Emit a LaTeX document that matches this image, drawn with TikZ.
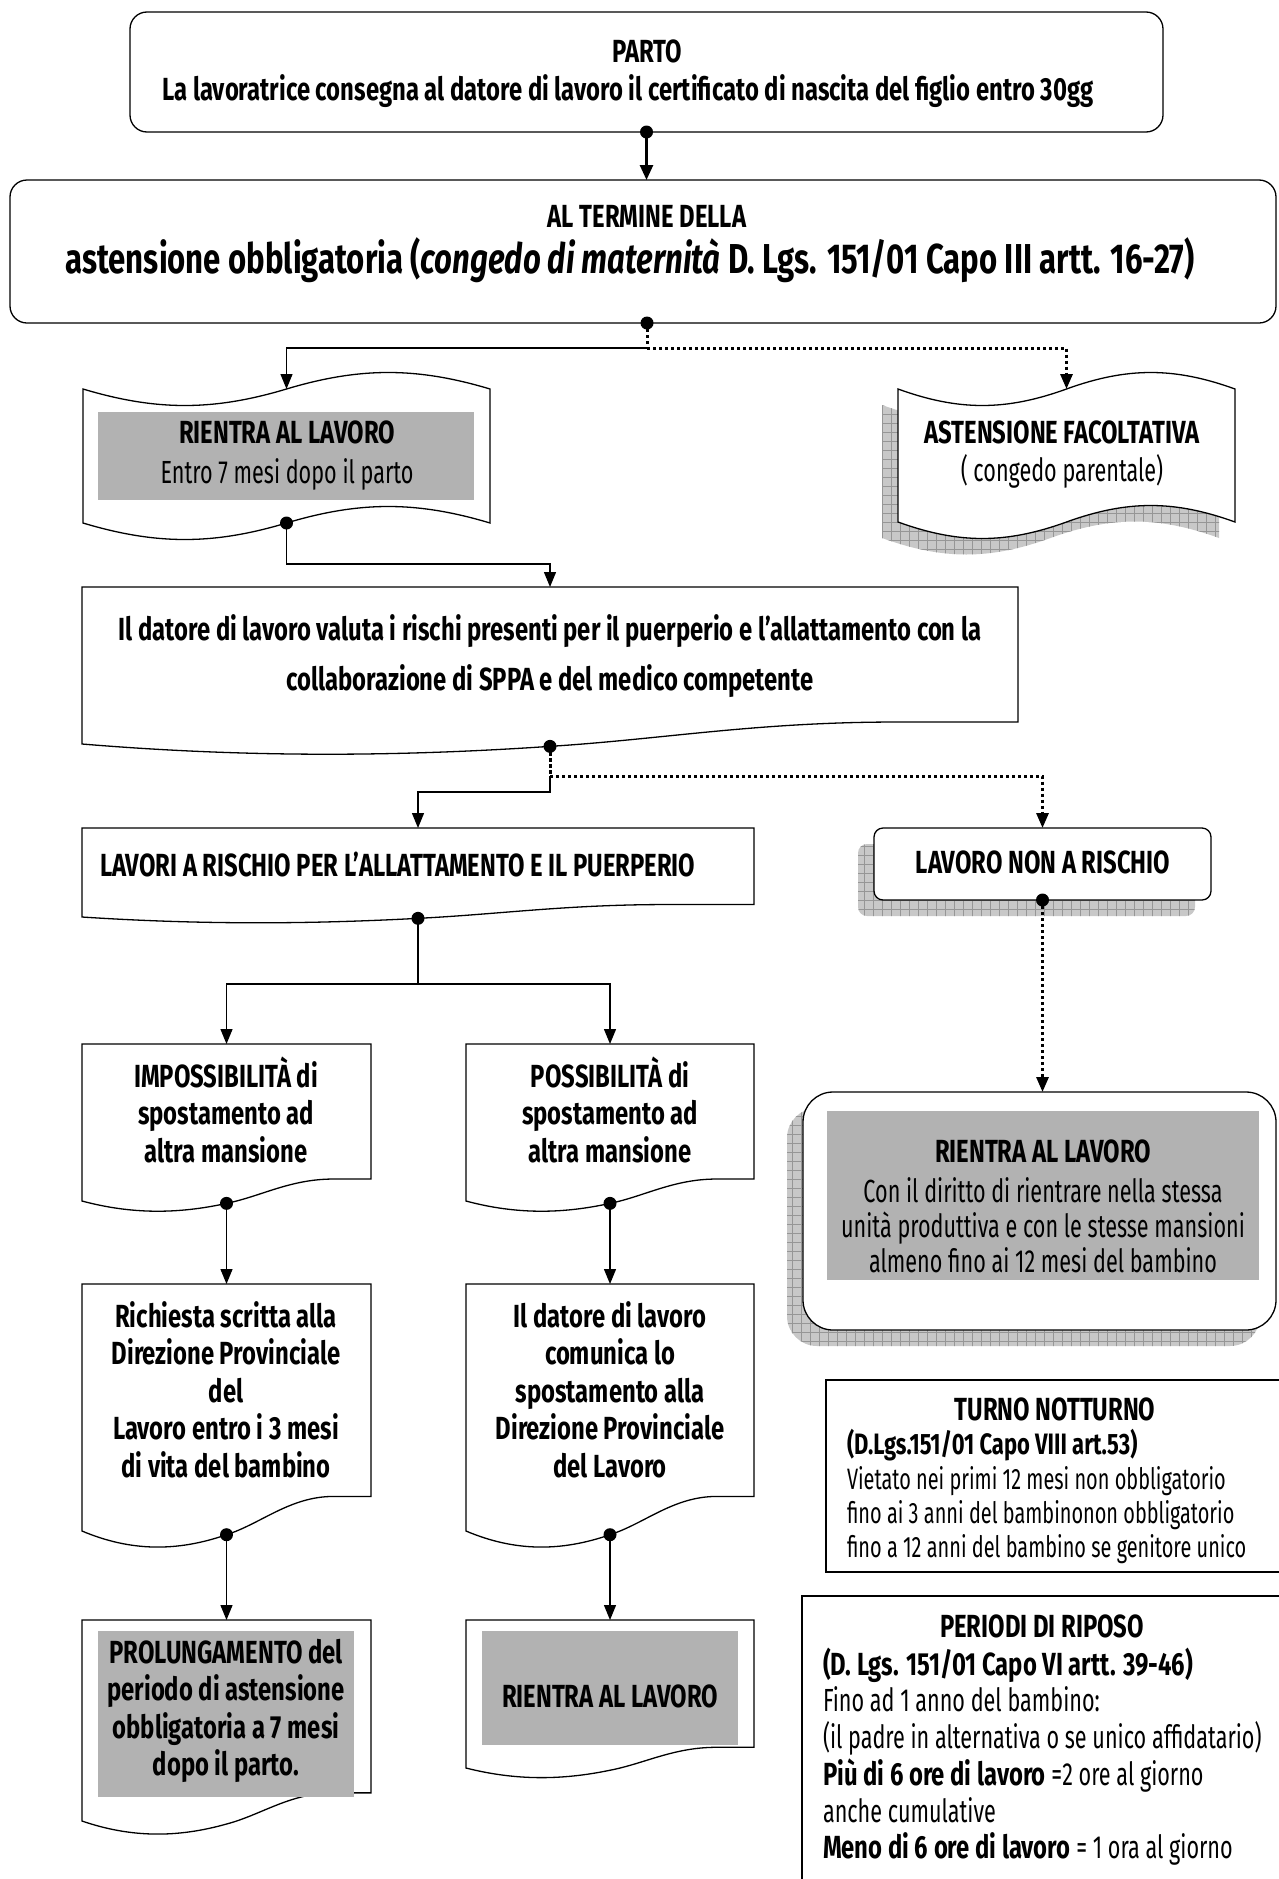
\documentclass[tikz,border=0pt]{standalone}
\usepackage{fontspec}
\setmainfont{Fira Sans}[
  UprightFeatures={FakeStretch=0.675},
  ItalicFeatures={FakeStretch=0.675},
  BoldFeatures={FakeStretch=0.745},
  BoldItalicFeatures={FakeStretch=0.745}]
\usetikzlibrary{arrows.meta}

\definecolor{boxgray}{RGB}{178,178,178}
\definecolor{shadowgray}{RGB}{200,200,200}
\definecolor{gridgray}{RGB}{150,150,150}

% several lines of text, baseline on the first line
\newcommand{\txtlines}[2][c]{\begin{tabular}[t]{@{}#1@{}}#2\end{tabular}}

% flowchart document: name, left, top, right, bottom (left side)
\newcommand{\docbox}[5]{%
  \draw[boxline,fill=white] (#2,#3) -- (#4,#3) -- (#4,{#5-0.14*(#5-#3)})
    -- ({#2+0.87*(#4-#2)},{#5-0.14*(#5-#3)})
    .. controls ({#2+0.72*(#4-#2)},{#5-0.14*(#5-#3)}) and ({#2+0.62*(#4-#2)},{#5-0.03*(#5-#3)})
    .. ({(#2+#4)/2},{#5+0.015*(#5-#3)})
    .. controls ({#2+0.33*(#4-#2)},{#5+0.084*(#5-#3)}) and ({#2+0.17*(#4-#2)},{#5+0.084*(#5-#3)})
    .. (#2,#5) -- cycle;
  \coordinate (#1-in) at ({(#2+#4)/2},#3);
  \coordinate (#1-out) at ({(#2+#4)/2},{#5+0.015*(#5-#3)});}

% punched tape: options, left, top, right, bottom
\newcommand{\tapepath}[5]{%
  \path[#1] (#2,#3)
    .. controls ({#2+0.18*(#4-#2)},#3+22) and ({#2+0.32*(#4-#2)},#3+22) .. ({(#2+#4)/2},#3)
    .. controls ({#2+0.68*(#4-#2)},#3-22) and ({#2+0.82*(#4-#2)},#3-22) .. (#4,#3)
    -- (#4,#5)
    .. controls ({#2+0.82*(#4-#2)},#5-22) and ({#2+0.68*(#4-#2)},#5-22) .. ({(#2+#4)/2},#5)
    .. controls ({#2+0.32*(#4-#2)},#5+22) and ({#2+0.18*(#4-#2)},#5+22) .. (#2,#5)
    -- cycle;}
\newcommand{\tapebox}[5]{%
  \tapepath{boxline,fill=white}{#2}{#3}{#4}{#5}
  \coordinate (#1-in) at ({(#2+#4)/2},#3);
  \coordinate (#1-out) at ({(#2+#4)/2},#5);}

% hatched shadows
\newcommand{\shadowfill}[4]{%
  \fill[shadowgray] (#1-40,#2-40) rectangle (#3+10,#4+60);
  \draw[gridgray,line width=0.5pt,step=9pt] (#1-40,#2-40) grid (#3+10,#4+60);}
\newcommand{\tapeshadow}[4]{%
  \begin{scope}
    \tapepath{clip,shift={(-16,16)}}{#1}{#2}{#3}{#4}
    \shadowfill{#1}{#2}{#3}{#4}
  \end{scope}}
\newcommand{\roundshadow}[5]{%
  \begin{scope}
    \path[clip,rounded corners=#5] (#1-16,#2+16) rectangle (#3-16,#4+16);
    \shadowfill{#1}{#2}{#3}{#4}
  \end{scope}}

\begin{document}
\begin{tikzpicture}[x=1pt,y=-1pt,
  every node/.style={inner sep=0pt,outer sep=0pt},
  boxline/.style={draw=black,line width=1.3pt},
  roundbox/.style={boxline,fill=white,rounded corners=17},
  hd/.style={font=\fontsize{32}{37.5}\selectfont\bfseries,anchor=base},
  tx/.style={font=\fontsize{32}{37.5}\selectfont,anchor=base},
  conn/.style={line width=1.3pt,-{Triangle[length=15pt,width=12pt]}},
  dots/.style={line width=3pt,dash pattern=on 3.2pt off 2.8pt},
  connd/.style={dots,-{Triangle[length=15pt,width=12pt]}}]

  \useasboundingbox (0,0) rectangle (1278,1879);

  % shadows
  \tapeshadow{898}{389}{1235}{522}
  \roundshadow{874}{828}{1211}{900}{9}
  \roundshadow{803}{1092}{1276}{1330}{30}

  % boxes
  \node[roundbox,minimum width=1033,minimum height=120] (parto) at (646.5,72) {};
  \node[roundbox,minimum width=1266,minimum height=143] (termine) at (643,251.5) {};
  \node[roundbox,rounded corners=9,minimum width=337,minimum height=72] (nonrischio) at (1042.5,864) {};
  \node[roundbox,rounded corners=30,minimum width=473,minimum height=238] (rientraC) at (1039.5,1211) {};
  \node[boxline,fill=white,minimum width=464,minimum height=192] (turno) at (1058,1476) {};
  \node[boxline,fill=white,minimum width=488,minimum height=304] (periodi) at (1046,1748) {};

  \tapebox{rientraA}{83}{389}{490}{523}
  \tapebox{astens}{898}{389}{1235}{522}

  \docbox{datore}{82}{587}{1018}{744}
  \docbox{lavori}{82}{828}{754}{917}
  \docbox{imposs}{82}{1044}{371}{1201}
  \docbox{poss}{466}{1044}{754}{1201}
  \docbox{richiesta}{82}{1284}{371}{1531}
  \docbox{comunica}{466}{1284}{754}{1531}
  \docbox{prolung}{82}{1620}{371}{1821}
  \docbox{rientraB}{466}{1620}{754}{1768}

  \fill[boxgray] (98,412) rectangle (474,500);
  \fill[boxgray] (827,1111) rectangle (1259,1280);
  \fill[boxgray] (98,1631) rectangle (354,1797);
  \fill[boxgray] (482,1631) rectangle (738,1745);

  % texts
  \node[hd] (partoHead) at (647,62) {PARTO};
  \node[hd] (partoTxt) at (628,100) {La lavoratrice consegna al datore di lavoro il certificato di nascita del figlio entro 30gg};
  \node[hd] (termineTxt) at (647,227) {AL TERMINE DELLA};
  \node[hd,font=\fontsize{41.8}{50}\selectfont\bfseries] (termineBig) at (630,273)
    {astensione obbligatoria (\textit{congedo di maternità} D. Lgs. 151/01 Capo III artt. 16-27)};
  \node[hd] (rientraAtxt) at (287,443) {\txtlines{RIENTRA AL LAVORO\\[2.5pt]\mdseries Entro 7 mesi dopo il parto}};
  \node[hd] (astensTxt) at (1062,443) {\txtlines{ASTENSIONE FACOLTATIVA\\\mdseries ( congedo parentale)}};
  \node[hd] (datoreTxt) at (550,640) {\txtlines{Il datore di lavoro valuta i rischi presenti per il puerperio e l'allattamento con la\\[12.5pt]collaborazione di SPPA e del medico competente}};
  \node[hd,anchor=base west] (lavoriTxt) at (100,876) {LAVORI A RISCHIO PER L'ALLATTAMENTO E IL PUERPERIO};
  \node[hd] (nonrischioTxt) at (1043,873) {LAVORO NON A RISCHIO};
  \node[hd] (impossTxt) at (226,1087) {\txtlines{IMPOSSIBILITÀ di\\spostamento ad\\altra mansione}};
  \node[hd] (possTxt) at (610,1087) {\txtlines{POSSIBILITÀ di\\spostamento ad\\altra mansione}};
  \node[hd] (richiestaTxt) at (226,1327) {\txtlines{Richiesta scritta alla\\Direzione Provinciale\\del\\Lavoro entro i 3 mesi\\di vita del bambino}};
  \node[hd] (comunicaTxt) at (610,1327) {\txtlines{Il datore di lavoro\\comunica lo\\spostamento alla\\Direzione Provinciale\\del Lavoro}};
  \node[hd] (prolungTxt) at (226,1663) {\txtlines{PROLUNGAMENTO del\\periodo di astensione\\obbligatoria a 7 mesi\\dopo il parto.}};
  \node[hd] (rientraBtxt) at (610,1707) {RIENTRA AL LAVORO};
  \node[hd] (rientraChead) at (1043,1162) {RIENTRA AL LAVORO};
  \node[tx] (rientraCtxt) at (1043,1202) {\txtlines{Con il diritto di rientrare nella stessa\\[-2.5pt]unità produttiva e con le stesse mansioni\\[-2.5pt]almeno fino ai 12 mesi del bambino}};
  \node[hd] (turnoHead) at (1055,1420) {TURNO NOTTURNO};
  \node[tx,anchor=base west,font=\fontsize{29.5}{36}\selectfont] (turnoTxt) at (847,1454) {\txtlines[l]{\textbf{(D.Lgs.151/01 Capo VIII art.53)}\\[-0.5pt]Vietato nei primi 12 mesi non obbligatorio\\[-2pt]fino ai 3 anni del bambinonon obbligatorio\\[-2pt]fino a 12 anni del bambino se genitore unico}};
  \node[hd] (periodiHead) at (1042,1637) {PERIODI DI RIPOSO};
  \node[tx,anchor=base west] (periodiTxt) at (823,1675) {\txtlines[l]{\textbf{(D. Lgs. 151/01 Capo VI artt. 39-46)}\\[-1pt]Fino ad 1 anno del bambino:\\[-1pt](il padre in alternativa o se unico affidatario)\\[-1pt]\textbf{Più di 6 ore di lavoro} =2 ore al giorno\\[-1pt]anche cumulative\\[-1pt]\textbf{Meno di 6 ore di lavoro} = 1 ora al giorno}};

  % connectors
  \coordinate (termine-out) at (647,323);
  \coordinate (split1) at (647,348);
  \coordinate (split2) at (550,776);
  \coordinate (split3) at (550,792);
  \coordinate (split4) at (418,984);

  \draw[line width=2.6pt,-{Triangle[length=15pt,width=13pt]}] (parto.south) -- (termine.north -| parto.south);
  \draw[dots] (termine-out) -- (split1);
  \draw[conn] (split1) -| (rientraA-in);
  \draw[connd] (split1) -| (astens-in);
  \draw[conn] (rientraA-out) -- ++(0,41) -| (datore-in);
  \draw[dots] (datore-out) -- (split2);
  \draw[connd] (split2) -| (nonrischio.north);
  \draw[conn] (split2) -- (split3) -| (lavori-in);
  \draw[line width=1.3pt] (lavori-out) -- (split4);
  \draw[conn] (split4) -| (imposs-in);
  \draw[conn] (split4) -| (poss-in);
  \draw[conn] (imposs-out) -- (richiesta-in);
  \draw[conn] (poss-out) -- (comunica-in);
  \draw[conn] (richiesta-out) -- (prolung-in);
  \draw[conn] (comunica-out) -- (rientraB-in);
  \draw[connd] (nonrischio.south) -- (rientraC.north -| nonrischio.south);

  \foreach \p in {parto.south,termine-out,rientraA-out,datore-out,lavori-out,nonrischio.south,imposs-out,poss-out,richiesta-out,comunica-out}
    \fill (\p) circle (6.5pt);

\end{tikzpicture}
\end{document}
